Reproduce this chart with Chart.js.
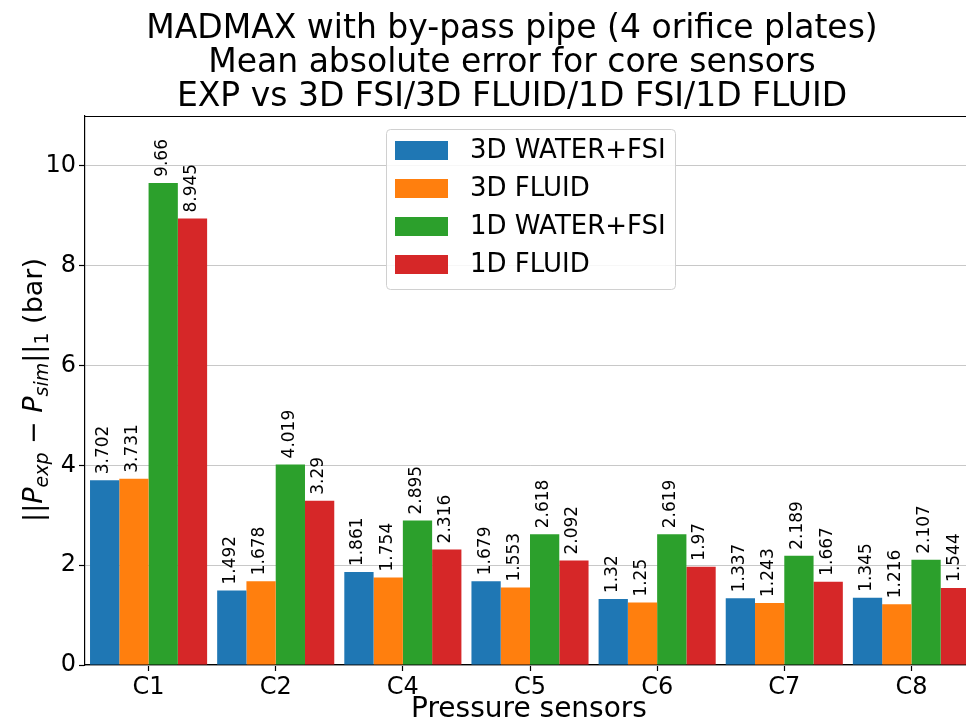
<!DOCTYPE html>
<html>
<head>
<meta charset="utf-8">
<script src="https://cdn.jsdelivr.net/npm/chart.js@4/dist/chart.umd.min.js"></script>
<style>
  html, body { margin: 0; padding: 0; background: #fff; overflow: hidden; }
  #wrap { width: 980px; height: 727px; }
</style>
</head>
<body>
<div id="wrap"><canvas id="maeChart" width="980" height="727"></canvas></div>
<script>
const sensors = ['C1', 'C2', 'C4', 'C5', 'C6', 'C7', 'C8'];
const water3dFsi = [3.702, 1.492, 1.861, 1.679, 1.32, 1.337, 1.345];
const fluid3d = [3.731, 1.678, 1.754, 1.553, 1.25, 1.243, 1.216];
const water1dFsi = [9.66, 4.019, 2.895, 2.618, 2.619, 2.189, 2.107];
const fluid1d = [8.945, 3.29, 2.316, 2.092, 1.97, 1.667, 1.544];
const seriesNames = ['3D WATER+FSI', '3D FLUID', '1D WATER+FSI', '1D FLUID'];
const seriesColors = ['#1f77b4', '#ff7f0e', '#2ca02c', '#d62728'];
const titleLines = [
    'MADMAX with by-pass pipe (4 orifice plates)',
    'Mean absolute error for core sensors',
    'EXP vs 3D FSI/3D FLUID/1D FSI/1D FLUID'
];

const FONT = '"DejaVu Sans", sans-serif';

// titles, rotated value labels, axis labels, legend box and top spine
const decorations = {
    id: 'decorations',
    afterDatasetsDraw(chart) {
        const ctx = chart.ctx;
        const area = chart.chartArea;

        // value labels above each bar
        ctx.save();
        ctx.fillStyle = '#000';
        ctx.font = '17px ' + FONT;
        ctx.textAlign = 'left';
        ctx.textBaseline = 'middle';
        chart.data.datasets.forEach((ds, i) => {
            chart.getDatasetMeta(i).data.forEach((bar, j) => {
                ctx.save();
                ctx.translate(bar.x - 1, bar.y - 6);
                ctx.rotate(-Math.PI / 2);
                ctx.fillText(String(ds.data[j]), 0, 0);
                ctx.restore();
            });
        });
        ctx.restore();

        // top spine
        ctx.save();
        ctx.strokeStyle = '#000';
        ctx.lineWidth = 1.2;
        ctx.beginPath();
        ctx.moveTo(area.left, area.top + 0.5);
        ctx.lineTo(area.right, area.top + 0.5);
        ctx.stroke();
        ctx.restore();

        // legend
        ctx.save();
        const lx = 386, ly = 129, lw = 289, lh = 160, r = 4;
        ctx.fillStyle = 'rgba(255,255,255,0.85)';
        ctx.strokeStyle = '#d0d0d0';
        ctx.lineWidth = 1;
        ctx.beginPath();
        ctx.roundRect(lx + 0.5, ly + 0.5, lw, lh, r);
        ctx.fill();
        ctx.stroke();
        ctx.font = '26px ' + FONT;
        ctx.textAlign = 'left';
        ctx.textBaseline = 'middle';
        seriesNames.forEach((name, i) => {
            const cy = 150 + i * 38;
            ctx.fillStyle = seriesColors[i];
            ctx.fillRect(395, cy - 9, 53, 19);
            ctx.fillStyle = '#000';
            ctx.fillText(name, 470, cy + 1);
        });
        ctx.restore();

        // title
        ctx.save();
        ctx.fillStyle = '#000';
        ctx.font = '33px ' + FONT;
        ctx.textAlign = 'center';
        ctx.textBaseline = 'middle';
        [29, 63, 97].forEach((y, i) => ctx.fillText(titleLines[i], 512, y));
        ctx.restore();

        // x axis title
        ctx.save();
        ctx.fillStyle = '#000';
        ctx.font = '28px ' + FONT;
        ctx.textAlign = 'center';
        ctx.textBaseline = 'middle';
        ctx.fillText('Pressure sensors', 529, 710);
        ctx.restore();

        // y axis title: ||P_exp - P_sim||_1 (bar)
        const parts = [
            { t: '||', f: '27px ' + FONT, dy: 0 },
            { t: 'P', f: 'italic 27px ' + FONT, dy: 0 },
            { t: 'exp', f: 'italic 19px ' + FONT, dy: 6 },
            { t: ' \u2212 ', f: '27px ' + FONT, dy: 0 },
            { t: 'P', f: 'italic 27px ' + FONT, dy: 0 },
            { t: 'sim', f: 'italic 19px ' + FONT, dy: 6 },
            { t: '||', f: '27px ' + FONT, dy: 0 },
            { t: '1', f: '19px ' + FONT, dy: 6 },
            { t: ' (bar)', f: '27px ' + FONT, dy: 0 }
        ];
        ctx.save();
        ctx.fillStyle = '#000';
        ctx.textBaseline = 'alphabetic';
        ctx.textAlign = 'left';
        let total = 0;
        parts.forEach(p => { ctx.font = p.f; p.w = ctx.measureText(p.t).width; total += p.w; });
        ctx.translate(42, 390);
        ctx.rotate(-Math.PI / 2);
        let x = -total / 2;
        parts.forEach(p => {
            ctx.font = p.f;
            ctx.fillText(p.t, x, p.dy);
            x += p.w;
        });
        ctx.restore();
    }
};

new Chart(document.getElementById('maeChart'), {
    type: 'bar',
    data: {
        labels: sensors,
        datasets: [water3dFsi, fluid3d, water1dFsi, fluid1d].map((vals, i) => ({
            label: seriesNames[i],
            data: vals,
            backgroundColor: seriesColors[i],
            borderWidth: 0,
            barPercentage: 1.0,
            categoryPercentage: 0.921
        }))
    },
    options: {
        responsive: false,
        animation: false,
        layout: { padding: { left: 0, right: 5, top: 116, bottom: 0 } },
        plugins: {
            legend: { display: false },
            title: { display: false },
            tooltip: { enabled: false }
        },
        scales: {
            x: {
                offset: true,
                grid: {
                    offset: false,
                    drawOnChartArea: false,
                    tickLength: 6,
                    tickColor: '#000',
                    tickWidth: 1.2
                },
                border: { display: true, color: '#000', width: 1.2 },
                ticks: {
                    color: '#000',
                    font: { family: FONT, size: 24 },
                    padding: 2,
                    maxRotation: 0
                },
                afterFit: s => { s.height = 62; }
            },
            y: {
                min: 0,
                max: 11,
                ticks: {
                    stepSize: 2,
                    color: '#000',
                    font: { family: FONT, size: 24 },
                    padding: 3
                },
                afterBuildTicks: s => { s.ticks = s.ticks.filter(t => t.value <= 10); },
                grid: {
                    color: '#c8c8c8',
                    lineWidth: 1,
                    tickLength: 6,
                    tickColor: '#000',
                    tickWidth: 1.2
                },
                border: { display: true, color: '#000', width: 1.2 },
                afterFit: s => { s.width = 85; }
            }
        }
    },
    plugins: [decorations]
});
</script>
</body>
</html>
